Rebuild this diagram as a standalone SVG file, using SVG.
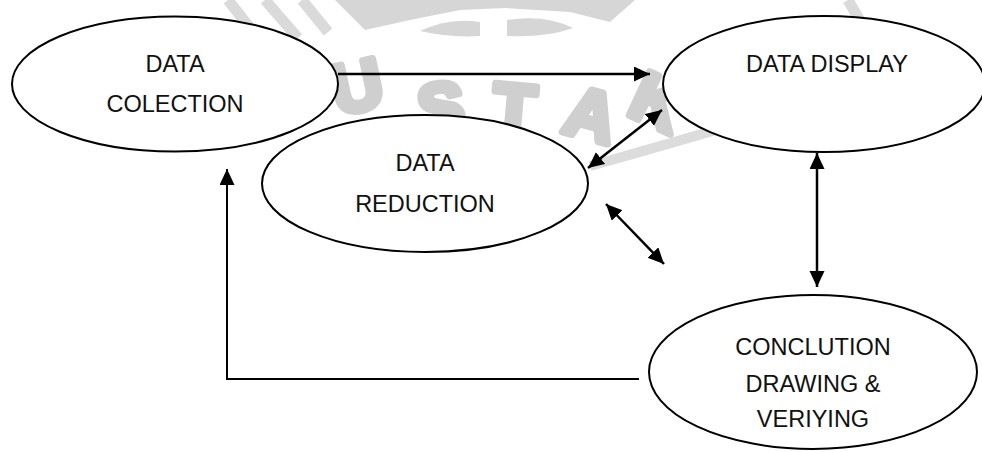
<svg xmlns="http://www.w3.org/2000/svg" width="982" height="452" viewBox="0 0 982 452">
  <style>
    .node ellipse { fill: #ffffff; stroke: #000000; stroke-width: 2; }
    .node text { font-family: "Liberation Sans", Arial, sans-serif; font-size: 23.5px; fill: #111111; text-anchor: middle; }
    .conn { fill: none; stroke: #000000; stroke-width: 2.5; }
    .wmshape { fill: #d6d6d6; }
  </style>
  <defs>
    <marker id="ah" markerUnits="userSpaceOnUse" markerWidth="17" markerHeight="16" refX="16" refY="7.5" orient="auto-start-reverse" viewBox="0 0 17 16">
      <path d="M0,0 L16,7.5 L0,15 z" fill="#000000"/>
    </marker>
  </defs>
  <rect x="0" y="0" width="982" height="452" fill="#ffffff"/>

  <g id="watermark" fill="#cfcfcf" stroke="#cfcfcf" stroke-width="7" stroke-linejoin="round" font-family="Liberation Sans, Arial, sans-serif" font-weight="bold" font-size="70" text-anchor="middle">
    <path class="wmshape" stroke="none" d="M335,0 L635,0 L610,22 L570,12 L505,8 L460,10 L410,20 L365,30 Z"/>
    <path class="wmshape" stroke="none" d="M420,31 Q450,17 480,22 L480,36 Q450,38 420,31 Z"/>
    <path class="wmshape" stroke="none" d="M507,20 Q545,14 573,28 Q545,38 507,36 Z"/>
    <path d="M228,0 L250,28 M265,0 L298,38 M302,0 L328,32" stroke="#dadada" stroke-width="11" fill="none"/>
    <path d="M848,0 L870,38" stroke="#dadada" stroke-width="11" fill="none"/>
    <path d="M590,166 Q690,138 800,105" stroke="#dcdcdc" stroke-width="10" fill="none"/>
    <text x="362" y="110" transform="rotate(-12 362 110)">U</text>
    <text x="443" y="132" transform="rotate(-5 443 132)">S</text>
    <text x="512" y="133" transform="rotate(5 512 133)">T</text>
    <text x="585" y="138" transform="rotate(15 585 138)">A</text>
    <text x="648" y="124" transform="rotate(25 648 124)">K</text>
  </g>

  <g id="connectors">
    <line class="conn" x1="338" y1="74" x2="650" y2="74" marker-end="url(#ah)"/>
    <line class="conn" x1="588" y1="168" x2="662" y2="110" marker-start="url(#ah)" marker-end="url(#ah)"/>
    <line class="conn" x1="606" y1="204" x2="664" y2="264" marker-start="url(#ah)" marker-end="url(#ah)"/>
    <line class="conn" x1="817" y1="153" x2="817" y2="287" marker-start="url(#ah)" marker-end="url(#ah)"/>
    <polyline class="conn" style="stroke-width:2" points="639,379 227,379 227,169" marker-end="url(#ah)"/>
  </g>

  <g id="data-collection" class="node">
    <ellipse cx="175" cy="84" rx="163" ry="67.5"/>
    <text x="175" y="72">DATA</text>
    <text x="175" y="112">COLECTION</text>
  </g>

  <g id="data-display" class="node">
    <ellipse cx="824" cy="84" rx="161" ry="68"/>
    <text x="827" y="72">DATA DISPLAY</text>
  </g>

  <g id="data-reduction" class="node">
    <ellipse cx="425" cy="183.5" rx="163" ry="68.5"/>
    <text x="425" y="171">DATA</text>
    <text x="425" y="212">REDUCTION</text>
  </g>

  <g id="conclusion" class="node">
    <ellipse cx="813" cy="372" rx="164" ry="77"/>
    <text x="813" y="355">CONCLUTION</text>
    <text x="813" y="392">DRAWING &amp;</text>
    <text x="813" y="427">VERIYING</text>
  </g>
</svg>
